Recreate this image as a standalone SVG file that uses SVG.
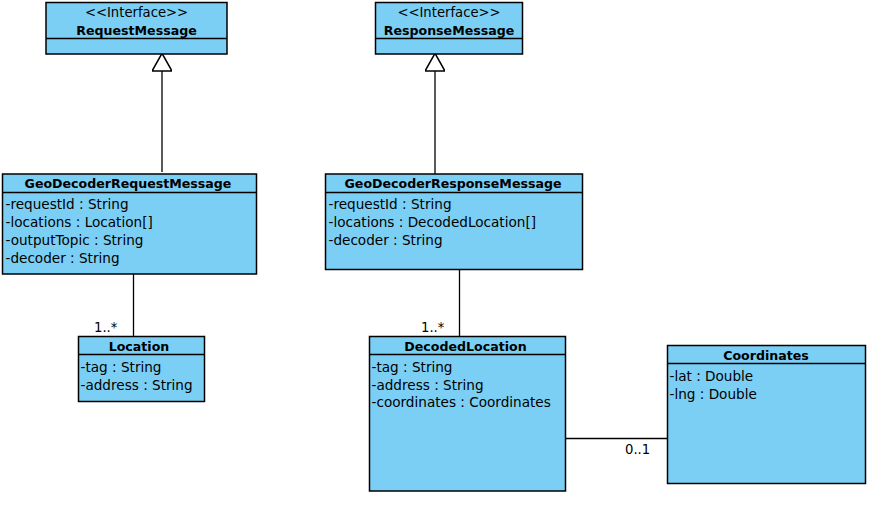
<svg xmlns="http://www.w3.org/2000/svg" width="890" height="509" viewBox="0 0 890 509">
<style>
.box{fill:#7bcff4;stroke:#000;stroke-width:1.5}
.sep{stroke:#000;stroke-width:1.5}
text{font-family:"DejaVu Sans","Liberation Sans",sans-serif;font-size:13.6px;fill:#000}
.t{font-weight:bold;text-anchor:middle;font-size:12.6px}
.st{text-anchor:middle;font-size:13.2px}
.edge{stroke:#000;stroke-width:1.3;fill:none}
.lbl{font-size:13.2px}
</style>
<defs>
<marker id="gen" markerWidth="20" markerHeight="20" refX="0" refY="8.5" orient="auto" markerUnits="userSpaceOnUse" viewBox="-1 0 17 17">
<path d="M0,0 L15,8.5 L0,17 Z" fill="#fff" stroke="#000" stroke-width="1.3"/>
</marker>
</defs>
<rect width="890" height="509" fill="#fff"/>
<g id="connectors">
<line class="edge" x1="162" y1="172" x2="162" y2="71" marker-end="url(#gen)"/>
<line class="edge" x1="435" y1="174" x2="435" y2="71" marker-end="url(#gen)"/>
<line class="edge" x1="133.5" y1="274" x2="133.5" y2="336"/>
<text class="lbl" x="94" y="332">1..*</text>
<line class="edge" x1="459.5" y1="269" x2="459.5" y2="336"/>
<text class="lbl" x="421" y="332">1..*</text>
<line class="edge" x1="565" y1="438.5" x2="667" y2="438.5"/>
<text class="lbl" x="625" y="454">0..1</text>
</g>
<g id="RequestMessage">
<rect class="box" x="46" y="2.5" width="181" height="51.5"/>
<line class="sep" x1="46" y1="38.5" x2="227" y2="38.5"/>
<text class="st" x="136.5" y="17">&lt;&lt;Interface&gt;&gt;</text>
<text class="t" x="136.5" y="34.5">RequestMessage</text>
</g>
<g id="ResponseMessage">
<rect class="box" x="375.5" y="2.5" width="147" height="51.5"/>
<line class="sep" x1="375.5" y1="38.5" x2="522.5" y2="38.5"/>
<text class="st" x="449" y="17">&lt;&lt;Interface&gt;&gt;</text>
<text class="t" x="449" y="34.5">ResponseMessage</text>
</g>
<g id="GeoDecoderRequestMessage">
<rect class="box" x="2.5" y="174" width="254" height="100"/>
<line class="sep" x1="2.5" y1="192.5" x2="256.5" y2="192.5"/>
<text class="t" x="128" y="187.5">GeoDecoderRequestMessage</text>
<text x="5.5" y="208.5">-requestId : String</text>
<text x="5.5" y="226.5">-locations : Location[]</text>
<text x="5.5" y="244.5">-outputTopic : String</text>
<text x="5.5" y="262.5">-decoder : String</text>
</g>
<g id="GeoDecoderResponseMessage">
<rect class="box" x="325.5" y="174" width="257" height="95.5"/>
<line class="sep" x1="325.5" y1="192.5" x2="582.5" y2="192.5"/>
<text class="t" x="453" y="187.5">GeoDecoderResponseMessage</text>
<text x="328.5" y="208.5">-requestId : String</text>
<text x="328.5" y="226.5">-locations : DecodedLocation[]</text>
<text x="328.5" y="244.5">-decoder : String</text>
</g>
<g id="Location">
<rect class="box" x="78.5" y="336.5" width="126" height="65"/>
<line class="sep" x1="78.5" y1="354.5" x2="204.5" y2="354.5"/>
<text class="t" x="139" y="351">Location</text>
<text x="80.5" y="372">-tag : String</text>
<text x="80.5" y="389.5">-address : String</text>
</g>
<g id="DecodedLocation">
<rect class="box" x="369.5" y="336.5" width="196" height="154.5"/>
<line class="sep" x1="369.5" y1="354.5" x2="565.5" y2="354.5"/>
<text class="t" x="465.5" y="351">DecodedLocation</text>
<text x="371.5" y="372">-tag : String</text>
<text x="371.5" y="389.5">-address : String</text>
<text x="371.5" y="407">-coordinates : Coordinates</text>
</g>
<g id="Coordinates">
<rect class="box" x="667.5" y="345.5" width="198" height="138"/>
<line class="sep" x1="667.5" y1="363.5" x2="865.5" y2="363.5"/>
<text class="t" x="766" y="359.5">Coordinates</text>
<text x="669.5" y="381">-lat : Double</text>
<text x="669.5" y="398.5">-lng : Double</text>
</g>
</svg>
